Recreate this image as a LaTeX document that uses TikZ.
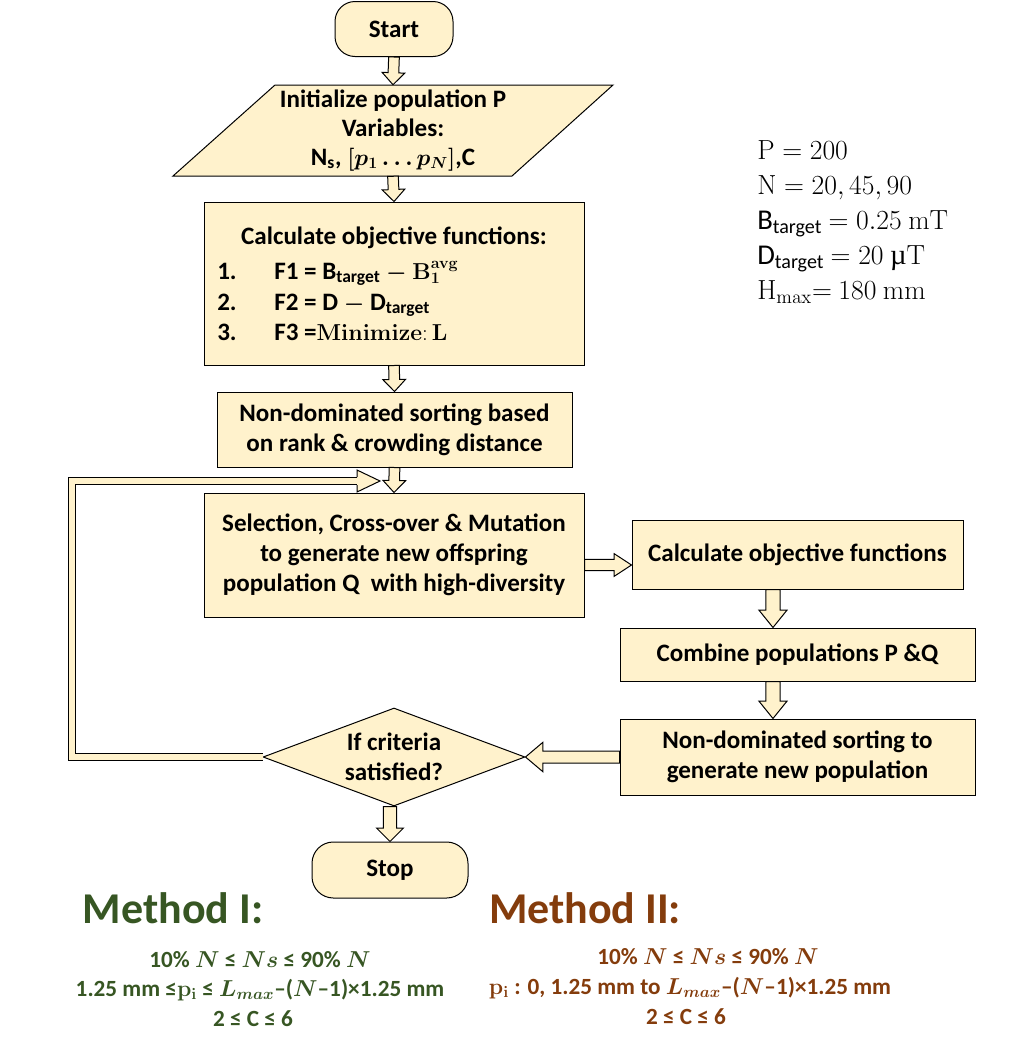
\documentclass[tikz,border=0pt]{standalone}
\usepackage[no-math]{fontspec}
\setmainfont{Carlito}
\newfontfamily\lserif{Liberation Serif}
\usepackage{bm}
\usetikzlibrary{shapes.geometric,calc}
\definecolor{fillc}{HTML}{FFF2CC}
\definecolor{mgreen}{HTML}{375623}
\definecolor{mbrown}{HTML}{843C0C}
% block arrow: from, to, shaft half-width, head half-width, head length
\newcommand\barrow[5]{%
  \path[draw=black, fill=fillc, line width=0.75pt, line join=miter]
    let \p1=#1, \p2=#2, \n1={atan2(\y2-\y1,\x2-\x1)}, \n2={veclen(\x2-\x1,\y2-\y1)} in
    [shift={(\p1)}, rotate=\n1]
    (0pt,-#3) -- (\n2-#5,-#3) -- (\n2-#5,-#4) -- (\n2,0pt) -- (\n2-#5,#4) -- (\n2-#5,#3) -- (0pt,#3) -- cycle;}
\begin{document}
\begin{tikzpicture}[x=0.75pt,y=-0.75pt,
  font=\fontsize{18.8}{22.5}\selectfont\bfseries,
  box/.style={draw=black, fill=fillc, line width=0.75pt, inner sep=0pt, align=center},
  txt/.style={inner sep=0pt, align=center},
  meth/.style={inner sep=0pt, font=\fontsize{33}{37}\selectfont\bfseries},
  mline/.style={inner sep=0pt, font=\fontsize{17.4}{21}\selectfont\bfseries}]
\useasboundingbox (0,0) rectangle (1011,1050);

% terminals and process boxes
\node[box, rounded corners=15pt, minimum width=88.5pt, minimum height=41.25pt] (start) at (394,29) {Start};
\draw[draw=black, fill=fillc, line width=0.75pt] (275,85) -- (613,85) -- (512,176) -- (173,176) -- cycle;
\node[txt, minimum width=253.5pt, minimum height=68.25pt, font=\fontsize{18.8}{21.75}\selectfont\bfseries] (init) at (393,130.5)
  {Initialize population P\\Variables:\\N\textsubscript{s}, $\bm{[p_1 \dots p_N]}$,C};
\node[box, minimum width=285pt, minimum height=122.25pt] (calc1) at (394,283.5) {};
\node[txt] (calc1t) at (394,238) {Calculate objective functions:};
\node[txt, anchor=west, align=left, font=\fontsize{18.8}{23}\selectfont\bfseries] (calc1l) at (217,301)
  {\makebox[42.75pt][l]{1.}F1 = B\textsubscript{target} $\bm{-}$ $\mathbf{B}^{\mathbf{avg}}_{\mathbf{1}}$\\
   \makebox[42.75pt][l]{2.}F2 = D $\bm{-}$ D\textsubscript{target}\\
   \makebox[42.75pt][l]{3.}F3 =$\mathbf{Minimize{:}\,L}$};
\node[box, minimum width=266.25pt, minimum height=56.25pt] (nd1) at (394.5,429.5)
  {Non-dominated sorting based\\on rank \& crowding distance};
\node[box, minimum width=285pt, minimum height=93pt] (sel) at (394,555)
  {Selection, Cross-over \& Mutation\\to generate new offspring\\population Q\ \ with high-diversity};
\node[box, minimum width=248.25pt, minimum height=51.75pt] (calc2) at (797.5,554.5) {Calculate objective functions};
\node[box, minimum width=266.25pt, minimum height=39.75pt] (comb) at (797.5,654.5) {Combine populations P \&Q};
\node[box, minimum width=266.25pt, minimum height=57pt] (nd2) at (797.5,757)
  {Non-dominated sorting to\\generate new population};
\node[diamond, draw=black, fill=fillc, line width=0.75pt, inner sep=0pt, minimum width=196.5pt, minimum height=73.5pt] (dia) at (394,757) {};
\node[txt] (diat) at (394,757) {If criteria\\satisfied?};
\node[box, rounded corners=16pt, minimum width=117pt, minimum height=42pt] (stop) at (390,870) {Stop};

% block arrows
\barrow{(start.south)}{(init.north)}{4pt}{8.5pt}{9pt}
\barrow{(init.south)}{(calc1.north)}{4pt}{8.5pt}{9pt}
\barrow{(calc1.south)}{(nd1.north)}{4pt}{8.5pt}{9pt}
\barrow{(nd1.south)}{(sel.north)}{4pt}{8.5pt}{9pt}
\coordinate (a1) at ([yshift=-7.5pt]sel.east);
\barrow{(a1)}{(a1 -| calc2.west)}{4.2pt}{8.5pt}{13pt}
\coordinate (a2) at ([xshift=-18.4pt]calc2.south);
\barrow{(a2)}{(a2 |- comb.north)}{5.3pt}{10.5pt}{13pt}
\coordinate (a3) at ([xshift=-18.4pt]comb.south);
\barrow{(a3)}{(a3 |- nd2.north)}{5.3pt}{10.5pt}{13pt}
\barrow{(nd2.west)}{(dia.east)}{4.5pt}{11pt}{13pt}
\barrow{(stop.north |- dia.south)}{(stop.north)}{5pt}{10pt}{10pt}

% feedback loop
\coordinate (loopL) at (72,481);
\coordinate (loopT) at (357,481);
\coordinate (loopTip) at (380,481);
\draw[line width=0.75pt, double=fillc, double distance=4.5pt] (dia.west) -- (dia.west -| loopL) -- (loopL) -- (loopT);
\fill[fillc] ([yshift=8.25pt]loopT) -- (loopTip) -- ([yshift=-8.25pt]loopT) -- cycle;
\draw[line width=0.75pt, line join=miter] ([yshift=-3pt]loopT) -- ([yshift=-8.25pt]loopT) -- (loopTip) -- ([yshift=8.25pt]loopT) -- ([yshift=3pt]loopT);

% parameters
\node[inner sep=0pt, anchor=west, align=left, font=\fontsize{21.5}{26.25}\selectfont\mdseries] (par) at (757,222)
  {$\mathrm{P} = 200$\\
   $\mathrm{N} = 20, 45, 90$\\
   B\textsubscript{target} $= 0.25\ \mathrm{mT}$\\
   D\textsubscript{target} $= 20$ {\lserif µ}$\mathrm{T}$\\
   $\mathrm{H_{max}}{=}\ 180\ \mathrm{mm}$};

% methods
\node[meth, text=mgreen] (m1) at (173,908) {Method I:};
\node[mline, text=mgreen] (m1a) at (260,960) {10\% $\bm{N}$ ≤ $\bm{Ns}$ ≤ 90\% $\bm{N}$};
\node[mline, text=mgreen] (m1b) at (260,990) {1.25 mm ≤$\mathbf{p}_{\mathbf{i}}$ ≤ $\bm{L_{max}}$–($\bm{N}$–1)×1.25 mm};
\node[mline, text=mgreen] (m1c) at (253,1019) {2 ≤ C ≤ 6};
\node[meth, text=mbrown] (m2) at (585,908) {Method II:};
\node[mline, text=mbrown] (m2a) at (708,957) {10\% $\bm{N}$ ≤ $\bm{Ns}$ ≤ 90\% $\bm{N}$};
\node[mline, text=mbrown] (m2b) at (690,988) {$\mathbf{p}_{\mathbf{i}}$ : 0, 1.25 mm to $\bm{L_{max}}$–($\bm{N}$–1)×1.25 mm};
\node[mline, text=mbrown] (m2c) at (686,1017) {2 ≤ C ≤ 6};
\end{tikzpicture}
\end{document}
